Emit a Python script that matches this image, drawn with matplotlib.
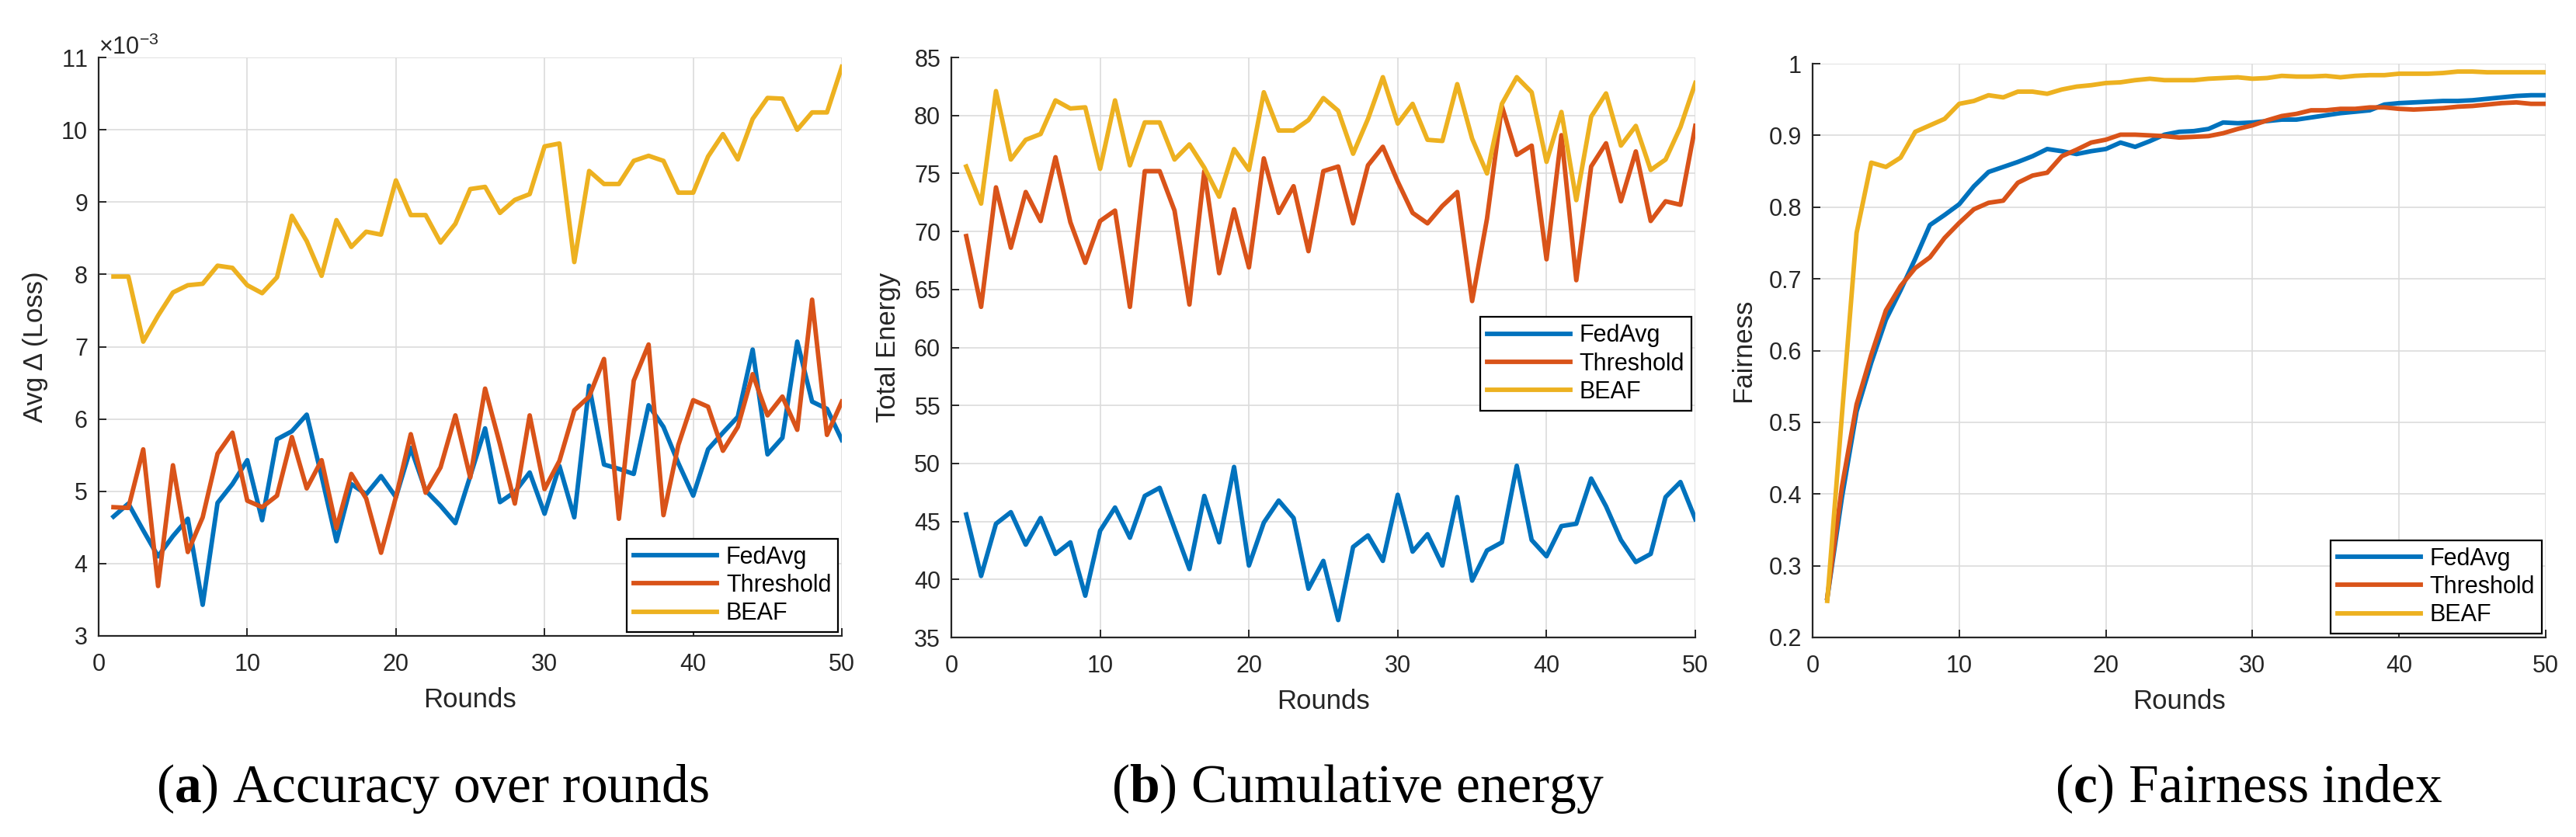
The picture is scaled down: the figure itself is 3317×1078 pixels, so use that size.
import matplotlib
matplotlib.use('Agg')
import matplotlib.pyplot as plt
from matplotlib.ticker import ScalarFormatter, FuncFormatter, MultipleLocator

plt.rcParams['font.family'] = 'Liberation Sans'
plt.rcParams['mathtext.fontset'] = 'custom'
plt.rcParams['mathtext.rm'] = 'Liberation Sans'
plt.rcParams['mathtext.bf'] = 'Liberation Serif:bold'

rounds = list(range(1, 51))
labels = ['FedAvg', 'Threshold', 'BEAF']
colors = ['#0072BD', '#D95319', '#EDB120']

# (a) avg delta loss, in units of 1e-3
acc_fedavg = [4.65, 4.83, 4.46, 4.10, 4.38, 4.62, 3.43, 4.84, 5.10, 5.43,
              4.60, 5.72, 5.83, 6.06, 5.21, 4.31, 5.10, 4.96, 5.21, 4.92,
              5.60, 5.01, 4.80, 4.56, 5.21, 5.87, 4.85, 4.99, 5.26, 4.69,
              5.35, 4.64, 6.46, 5.37, 5.31, 5.24, 6.19, 5.89, 5.39, 4.94,
              5.58, 5.81, 6.03, 6.96, 5.51, 5.74, 7.07, 6.24, 6.14, 5.71]
acc_threshold = [4.78, 4.77, 5.58, 3.69, 5.36, 4.16, 4.64, 5.52, 5.81, 4.87,
                 4.78, 4.94, 5.75, 5.04, 5.43, 4.49, 5.24, 4.90, 4.15, 4.92,
                 5.79, 4.98, 5.33, 6.05, 5.19, 6.42, 5.65, 4.83, 6.05, 5.03,
                 5.42, 6.12, 6.31, 6.83, 4.62, 6.53, 7.03, 4.67, 5.64, 6.26,
                 6.17, 5.56, 5.89, 6.62, 6.05, 6.31, 5.85, 7.65, 5.78, 6.24]
acc_beaf = [7.97, 7.97, 7.07, 7.43, 7.75, 7.85, 7.87, 8.12, 8.09, 7.85,
            7.74, 7.96, 8.81, 8.46, 7.98, 8.75, 8.38, 8.59, 8.55, 9.30,
            8.82, 8.82, 8.44, 8.70, 9.18, 9.21, 8.85, 9.03, 9.11, 9.77,
            9.81, 8.17, 9.43, 9.25, 9.25, 9.57, 9.64, 9.57, 9.13, 9.13,
            9.63, 9.94, 9.59, 10.15, 10.44, 10.43, 10.00, 10.24, 10.24, 10.87]

# (b) total energy
en_fedavg = [45.6, 40.3, 44.8, 45.8, 43.0, 45.3, 42.2, 43.2, 38.6, 44.2,
             46.2, 43.6, 47.2, 47.9, 44.4, 40.9, 47.2, 43.2, 49.7, 41.2,
             44.9, 46.8, 45.3, 39.2, 41.6, 36.5, 42.8, 43.8, 41.6, 47.3,
             42.4, 43.9, 41.2, 47.1, 39.9, 42.5, 43.2, 49.8, 43.4, 42.0,
             44.6, 44.8, 48.7, 46.3, 43.4, 41.5, 42.2, 47.1, 48.4, 45.2]
en_threshold = [69.6, 63.5, 73.8, 68.6, 73.4, 70.9, 76.4, 70.8, 67.3, 70.9,
                71.8, 63.5, 75.2, 75.2, 71.8, 63.7, 75.2, 66.4, 71.9, 66.9,
                76.3, 71.6, 73.9, 68.3, 75.2, 75.6, 70.7, 75.7, 77.3, 74.3,
                71.6, 70.7, 72.2, 73.4, 64.0, 71.1, 80.8, 76.6, 77.4, 67.6,
                78.3, 65.8, 75.6, 77.6, 72.6, 76.9, 70.9, 72.6, 72.3, 79.1]
en_beaf = [75.6, 72.4, 82.1, 76.2, 77.9, 78.4, 81.3, 80.6, 80.7, 75.4,
           81.3, 75.7, 79.4, 79.4, 76.2, 77.5, 75.5, 73.0, 77.1, 75.3,
           82.0, 78.7, 78.7, 79.6, 81.5, 80.4, 76.7, 79.7, 83.3, 79.3,
           81.0, 77.9, 77.8, 82.7, 78.0, 75.0, 81.0, 83.3, 82.0, 76.0,
           80.3, 72.7, 79.9, 81.9, 77.4, 79.1, 75.3, 76.2, 79.0, 82.8]

# (c) fairness
fair_fedavg = [0.255, 0.395, 0.515, 0.583, 0.643, 0.684, 0.728, 0.775, 0.789, 0.804,
               0.829, 0.849, 0.856, 0.863, 0.871, 0.881, 0.878, 0.874, 0.878, 0.881,
               0.890, 0.884, 0.892, 0.901, 0.905, 0.906, 0.909, 0.918, 0.917, 0.918,
               0.920, 0.922, 0.922, 0.925, 0.928, 0.931, 0.933, 0.935, 0.943, 0.945,
               0.946, 0.947, 0.948, 0.948, 0.949, 0.951, 0.953, 0.955, 0.956, 0.956]
fair_threshold = [0.255, 0.41, 0.525, 0.594, 0.656, 0.690, 0.715, 0.730, 0.757, 0.778,
                  0.797, 0.806, 0.809, 0.834, 0.844, 0.848, 0.871, 0.880, 0.890, 0.894,
                  0.901, 0.901, 0.900, 0.899, 0.897, 0.898, 0.899, 0.903, 0.909, 0.914,
                  0.921, 0.927, 0.930, 0.935, 0.935, 0.937, 0.937, 0.939, 0.939, 0.937,
                  0.936, 0.937, 0.938, 0.940, 0.941, 0.943, 0.945, 0.946, 0.944, 0.944]
fair_beaf = [0.251, 0.51, 0.764, 0.862, 0.856, 0.869, 0.905, 0.914, 0.923, 0.944,
             0.948, 0.956, 0.953, 0.961, 0.961, 0.958, 0.964, 0.968, 0.970, 0.973,
             0.974, 0.977, 0.979, 0.977, 0.977, 0.977, 0.979, 0.980, 0.981, 0.979,
             0.980, 0.983, 0.982, 0.982, 0.983, 0.981, 0.983, 0.984, 0.984, 0.986,
             0.986, 0.986, 0.987, 0.989, 0.989, 0.988, 0.988, 0.988, 0.988, 0.988]

W, H = 3317, 1078
fig = plt.figure(figsize=(W / 100, H / 100), dpi=100)
ink = '#262626'


def px_axes(l, r, t, b):
    return fig.add_axes([l / W, 1 - b / H, (r - l) / W, (b - t) / H])


def style(ax, ylabel):
    ax.set_xlim(0, 50)
    ax.xaxis.set_major_locator(MultipleLocator(10))
    ax.grid(True, color='#dcdcdc', linewidth=1.2)
    ax.set_axisbelow(True)
    for s in ['top', 'right']:
        ax.spines[s].set_visible(False)
    for s in ['left', 'bottom']:
        ax.spines[s].set_color(ink)
        ax.spines[s].set_linewidth(1.6)
    ax.tick_params(direction='in', length=7, width=1.4, colors=ink,
                   labelsize=22)
    ax.tick_params(axis='x', pad=16)
    ax.tick_params(axis='y', pad=10)
    ax.set_xlabel('Rounds', fontsize=25, color=ink, labelpad=10)
    ax.set_ylabel(ylabel, fontsize=25, color=ink, labelpad=12)


def legend(ax, **kw):
    leg = ax.legend(labels, fontsize=22, frameon=True, fancybox=False,
                    edgecolor='black', framealpha=1, handlelength=3.5,
                    handletextpad=0.4, labelspacing=0.2, borderpad=0.3,
                    borderaxespad=0.15, **kw)
    leg.get_frame().set_linewidth(1.6)


# (a)
ax1 = px_axes(127, 1084, 74, 819)
for ys, c in zip([acc_fedavg, acc_threshold, acc_beaf], colors):
    ax1.plot(rounds, [v * 1e-3 for v in ys], color=c, linewidth=4.2)
ax1.set_ylim(0.003, 0.011)
ax1.yaxis.set_major_locator(MultipleLocator(0.001))
fmt = ScalarFormatter(useMathText=True)
fmt.set_powerlimits((-3, -3))
ax1.yaxis.set_major_formatter(fmt)
style(ax1, 'Avg Δ (Loss)')
ax1.yaxis.get_offset_text().set_fontsize(22)
ax1.yaxis.get_offset_text().set_color(ink)
legend(ax1, loc='lower right')

# (b)
ax2 = px_axes(1225, 2183, 74, 821)
for ys, c in zip([en_fedavg, en_threshold, en_beaf], colors):
    ax2.plot(rounds, ys, color=c, linewidth=4.2)
ax2.set_ylim(35, 85)
ax2.yaxis.set_major_locator(MultipleLocator(5))
style(ax2, 'Total Energy')
legend(ax2, loc='lower right', bbox_to_anchor=(1.0, 0.385))

# (c)
ax3 = px_axes(2334, 3278, 82, 821)
for ys, c in zip([fair_fedavg, fair_threshold, fair_beaf], colors):
    ax3.plot(rounds, ys, color=c, linewidth=4.2)
ax3.set_ylim(0.2, 1.0)
ax3.yaxis.set_major_locator(MultipleLocator(0.1))
ax3.yaxis.set_major_formatter(FuncFormatter(lambda v, p: f'{v:g}'))
style(ax3, 'Fairness')
legend(ax3, loc='lower right')

# captions below each panel
captions = [(557, r'($\mathbf{a}$) Accuracy over rounds'),
            (1748, r'($\mathbf{b}$) Cumulative energy'),
            (2896, r'($\mathbf{c}$) Fairness index')]
for cx, txt in captions:
    fig.text(cx / W, 1 - 1033 / H, txt, ha='center', va='baseline',
             fontsize=50, family='Liberation Serif', color='black')

fig.savefig('out.png', dpi=100)
